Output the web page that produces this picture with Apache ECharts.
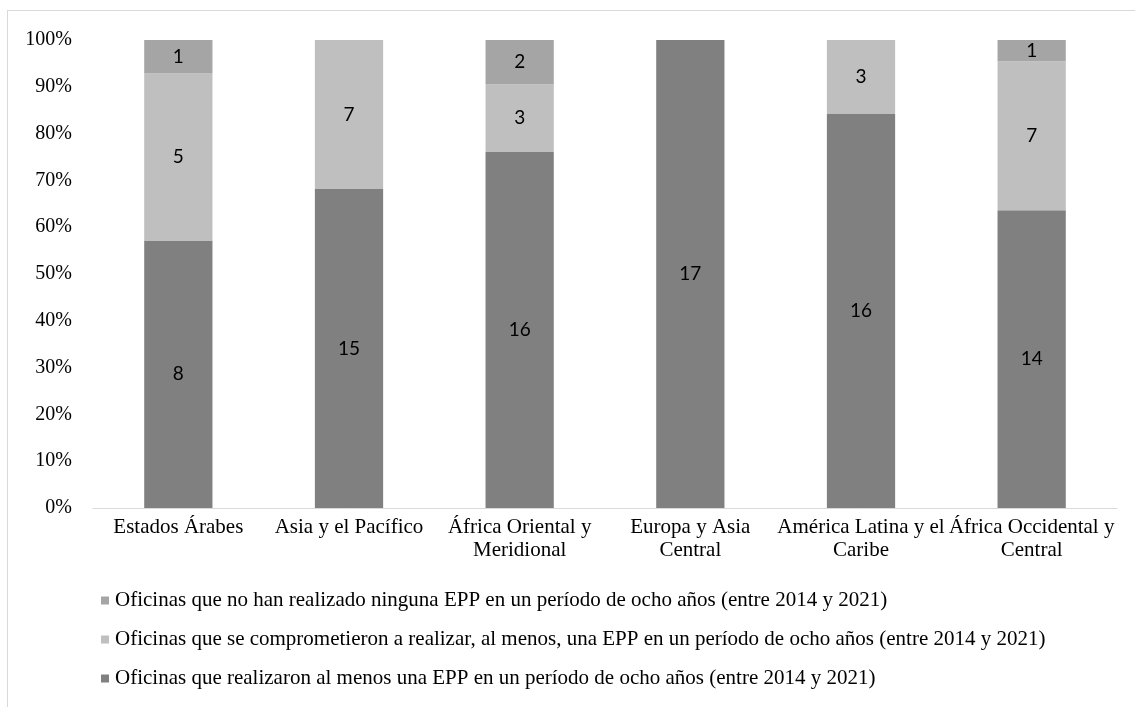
<!DOCTYPE html>
<html>
<head>
<meta charset="utf-8">
<script src="https://cdn.jsdelivr.net/npm/echarts@6/dist/echarts.min.js"></script>
<style>
html,body{margin:0;padding:0;background:#fff;}
#frame{position:absolute;left:7px;top:10px;width:1128px;height:697px;border-top:1px solid #d9d9d9;border-left:1px solid #d9d9d9;box-sizing:border-box;}
#chart{position:absolute;left:0;top:0;width:1135px;height:707px;}
</style>
</head>
<body>
<div id="frame"></div>
<div id="chart"></div>
<script>
const categories = ["Estados Árabes", "Asia y el Pacífico", "África Oriental y\nMeridional", "Europa y Asia\nCentral", "América Latina y el\nCaribe", "África Occidental y\nCentral"];
const seriesNames = [
  "Oficinas que realizaron al menos una EPP en un período de ocho años (entre 2014 y 2021)",
  "Oficinas que se comprometieron a realizar, al menos, una EPP en un período de ocho años (entre 2014 y 2021)",
  "Oficinas que no han realizado ninguna EPP en un período de ocho años (entre 2014 y 2021)"
];
const realizaron = [8, 15, 16, 17, 16, 14];
const comprometieron = [5, 7, 3, 0, 3, 7];
const ninguna = [1, 0, 2, 0, 0, 1];
const yTicks = [0, 10, 20, 30, 40, 50, 60, 70, 80, 90, 100];

const counts = [realizaron, comprometieron, ninguna];
const totals = categories.map((c, i) => realizaron[i] + comprometieron[i] + ninguna[i]);
const colors = ["#808080", "#bfbfbf", "#a5a5a5"];
const serif = "'Liberation Serif', 'Times New Roman', serif";

const series = counts.map((arr, s) => ({
  name: seriesNames[s],
  type: 'bar',
  stack: 'total',
  barWidth: '40%',
  itemStyle: { color: colors[s] },
  data: arr.map((v, i) => ({ value: v / totals[i] * 100, count: v })),
  label: {
    show: true,
    position: 'inside',
    color: '#000',
    fontFamily: "Lato, 'Open Sans', sans-serif",
    fontSize: 19,
    formatter: p => p.data.count > 0 ? String(p.data.count) : ''
  }
}));

const chart = echarts.init(document.getElementById('chart'), null, { renderer: 'canvas' });
chart.setOption({
  animation: false,
  backgroundColor: 'transparent',
  grid: { left: 93, right: 18, top: 40, bottom: 199, containLabel: false },
  legend: {
    orient: 'vertical',
    left: 101,
    top: 590,
    padding: 0,
    itemWidth: 8,
    itemHeight: 8,
    itemGap: 18,
    icon: 'rect',
    data: [seriesNames[2], seriesNames[1], seriesNames[0]],
    textStyle: { fontFamily: serif, fontSize: 21, lineHeight: 21, color: '#000', padding: [0, 0, 0, 1] }
  },
  xAxis: {
    type: 'category',
    data: categories,
    axisLine: { lineStyle: { color: '#d9d9d9', width: 1 } },
    axisTick: { show: false },
    axisLabel: { fontFamily: serif, fontSize: 21, color: '#000', lineHeight: 23, margin: 8, interval: 0 }
  },
  yAxis: {
    type: 'value',
    min: yTicks[0],
    max: yTicks[yTicks.length - 1],
    interval: 10,
    axisLine: { show: false },
    axisTick: { show: false },
    splitLine: { show: false },
    axisLabel: { fontFamily: serif, fontSize: 20, color: '#000', margin: 21, formatter: '{value}%' }
  },
  series: series
});
</script>
</body>
</html>
